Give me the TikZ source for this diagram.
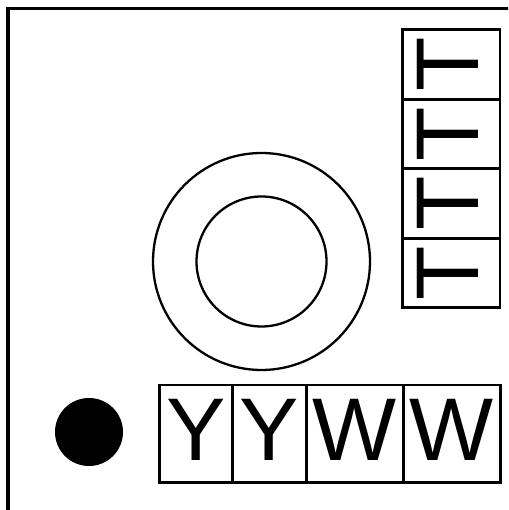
\documentclass[tikz,border=0pt]{standalone}
\usepackage{fontspec}
\setmainfont{Liberation Sans}
\usetikzlibrary{positioning}

\begin{document}
\begin{tikzpicture}[x=1pt, y=1pt,
  frameline/.style={line width=3.2pt},
  glyphbox/.style={draw, line width=2.8pt, inner sep=0pt, outer sep=0pt,
    font=\fontsize{89}{89}\selectfont, text height=64pt, text depth=10pt},
  ring/.style={draw, circle, line width=2.3pt, inner sep=0pt}]

% Page area
\useasboundingbox (0,0) rectangle (508,510);
\clip (0,0) rectangle (508,510);
\fill[white] (0,0) rectangle (508,510);

% Outer frame, open to the right and bottom
\draw[frameline] (8,-10) -- (8,501.5) -- (520,501.5);

% Dial
\node[ring, minimum size=217pt] (outer) at (261.5,248.5) {};
\node[ring, minimum size=130pt] (inner) at (outer.center) {};

% Indicator dot
\node[circle, fill, inner sep=0pt, minimum size=68pt] (dot) at (89,78) {};

% Letter row
\node[glyphbox, minimum width=73.5pt, minimum height=97.7pt] (y1) at (196,76.2) {Y};
\node[glyphbox, minimum width=73.5pt, minimum height=97.7pt, right=0pt of y1] (y2) {Y};
\node[glyphbox, minimum width=97pt, minimum height=97.7pt, right=0pt of y2] (w1) {W};
\node[glyphbox, minimum width=97pt, minimum height=97.7pt, right=0pt of w1] (w2) {W};

% T column
\foreach \i/\yy in {1/445.5, 2/376, 3/306.5, 4/237}
  \node[glyphbox, rotate=90, minimum width=69.5pt, minimum height=97.3pt] (t\i) at (451.3,\yy) {T};

\end{tikzpicture}
\end{document}
